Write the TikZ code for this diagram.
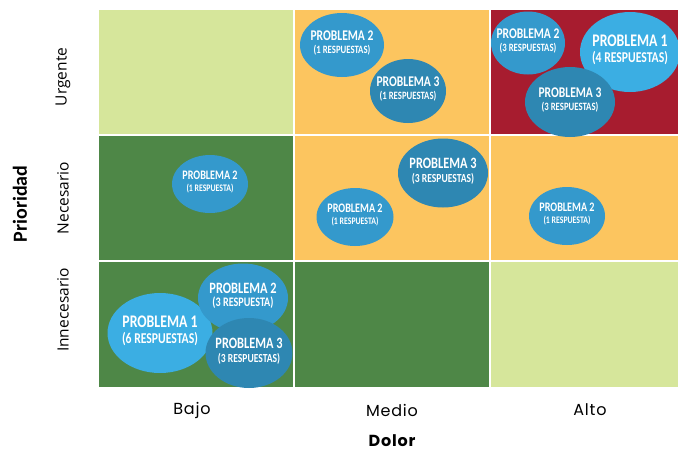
\documentclass[tikz,border=0pt]{standalone}
\usepackage{fontspec}
\setmainfont{Carlito}
\newfontfamily\bubfont{Carlito}[FakeStretch=0.78]
\newfontfamily\axfont{Poppins}[LetterSpace=5]
\newfontfamily\rowfont{Open Sans}
\usetikzlibrary{shapes.geometric}

\definecolor{lgreen}{HTML}{D6E69B}
\definecolor{dgreen}{HTML}{4E8747}
\definecolor{amber}{HTML}{FCC55F}
\definecolor{crimson}{HTML}{A71C2F}
\definecolor{blueA}{HTML}{3BAEE3}
\definecolor{blueB}{HTML}{3499CC}
\definecolor{blueC}{HTML}{2E87B2}

\begin{document}
\begin{tikzpicture}[x=1pt, y=-1pt,
    bub/.style={ellipse, inner sep=0pt, outer sep=0pt},
    tx/.style={text=white, align=center, inner sep=0pt, yshift=2pt},
    tA/.style={tx, font=\bubfont\bfseries\fontsize{13}{12}\selectfont},
    tB/.style={tx, font=\bubfont\bfseries\fontsize{14.8}{12.5}\selectfont},
    tC/.style={tx, font=\bubfont\bfseries\fontsize{15.8}{13.5}\selectfont},
    tD/.style={tx, font=\bubfont\bfseries\fontsize{17.7}{15.5}\selectfont},
    row/.style={rotate=90, font=\rowfont\fontsize{15.5}{15.5}\selectfont},
    col/.style={font=\axfont\fontsize{16}{16}\selectfont}]
    \useasboundingbox (0,0) rectangle (678,451);

    % grid
    \fill[lgreen]  (99,10)   rectangle (293,134);
    \fill[amber]   (295,10)  rectangle (489,134);
    \fill[crimson] (491,10)  rectangle (678,134);
    \fill[dgreen]  (99,136)  rectangle (293,260);
    \fill[amber]   (295,136) rectangle (489,260);
    \fill[amber]   (491,136) rectangle (678,260);
    \fill[dgreen]  (99,262)  rectangle (293,387);
    \fill[dgreen]  (295,262) rectangle (489,387);
    \fill[lgreen]  (491,262) rectangle (678,387);

    % urgente
    \node[bub, fill=blueB, minimum width=84, minimum height=64] (um2) at (342,45) {};
    \node[tB] at (um2) {PROBLEMA 2\\\fontsize{11.2}{11}\selectfont(1 RESPUESTAS)};
    \node[bub, fill=blueC, minimum width=76, minimum height=64] (um3) at (408,91) {};
    \node[tB] at (um3) {PROBLEMA 3\\\fontsize{11.2}{11}\selectfont(1 RESPUESTAS)};
    \node[bub, fill=blueB, minimum width=74, minimum height=63] (ua2) at (528,43) {};
    \node[tB] at (ua2) {PROBLEMA 2\\\fontsize{11.2}{11}\selectfont(3 RESPUESTAS)};
    \node[bub, fill=blueA, minimum width=100, minimum height=80] (ua1) at (630,52) {};
    \node[tD] at (ua1) {PROBLEMA 1\\\fontsize{15}{14}\selectfont(4 RESPUESTAS)};
    \node[bub, fill=blueC, minimum width=90, minimum height=70] (ua3) at (570,102) {};
    \node[tB] at (ua3) {PROBLEMA 3\\\fontsize{11.2}{11}\selectfont(3 RESPUESTAS)};

    % necesario
    \node[bub, fill=blueB, minimum width=76, minimum height=58] (nb2) at (210,184) {};
    \node[tA] at (nb2) {PROBLEMA 2\\\fontsize{10}{10}\selectfont(1 RESPUESTA)};
    \node[bub, fill=blueC, minimum width=90, minimum height=69] (nm3) at (443,173) {};
    \node[tC] at (nm3) {PROBLEMA 3\\\fontsize{12.3}{12}\selectfont(3 RESPUESTAS)};
    \node[bub, fill=blueB, minimum width=77, minimum height=58] (nm2) at (355,217) {};
    \node[tA] at (nm2) {PROBLEMA 2\\\fontsize{10}{10}\selectfont(1 RESPUESTA)};
    \node[bub, fill=blueB, minimum width=76, minimum height=58] (na2) at (567,216) {};
    \node[tA] at (na2) {PROBLEMA 2\\\fontsize{10}{10}\selectfont(1 RESPUESTA)};

    % innecesario
    \node[bub, fill=blueA, minimum width=105, minimum height=80] (ib1) at (160,333) {};
    \node[tD] at (ib1) {PROBLEMA 1\\\fontsize{15}{14}\selectfont(6 RESPUESTAS)};
    \node[bub, fill=blueB, minimum width=90, minimum height=69] (ib2) at (243,298) {};
    \node[tC] at (ib2) {PROBLEMA 2\\\fontsize{13}{12}\selectfont(3 RESPUESTA)};
    \node[bub, fill=blueC, minimum width=87, minimum height=70] (ib3) at (249,353) {};
    \node[tC] at (ib3) {PROBLEMA 3\\\fontsize{12.3}{12}\selectfont(3 RESPUESTAS)};

    % axes
    \node[row] (urg) at (63,77) {Urgente};
    \node[row] (nec) at (63,198) {Necesario};
    \node[row] (inn) at (63,310) {Innecesario};
    \node[rotate=90, font=\bfseries\fontsize{20}{20}\selectfont] (prio) at (20,204) {Prioridad};
    \node[col] (bajo) at (192,410) {Bajo};
    \node[col] (medio) at (392,410) {Medio};
    \node[col] (alto) at (590,410) {Alto};
    \node[col, font=\axfont\bfseries\fontsize{16}{16}\selectfont] (dolor) at (392,441) {Dolor};
\end{tikzpicture}
\end{document}
